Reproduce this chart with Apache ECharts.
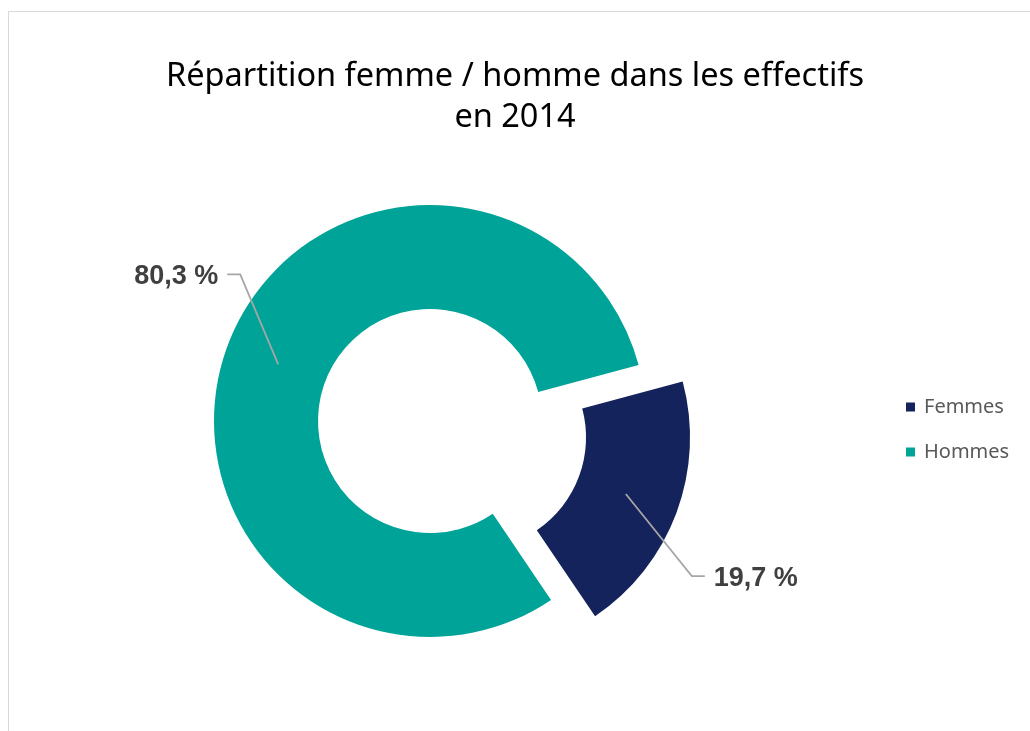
<!DOCTYPE html>
<html>
<head>
<meta charset="utf-8">
<script src="https://cdn.jsdelivr.net/npm/echarts@6/dist/echarts.min.js"></script>
<style>
  html, body { margin: 0; padding: 0; background: #fff; overflow: hidden; }
  #frame { position: absolute; left: 8px; top: 11px; width: 1040px; height: 740px; border: 1px solid #d9d9d9; }
  #chart { position: absolute; left: 0; top: 0; width: 1030px; height: 731px; }
</style>
</head>
<body>
<div id="frame"></div>
<div id="chart"></div>
<script>
// data
const categories = ['Femmes', 'Hommes'];
const shares = [19.7, 80.3];
const colors = ['#14235b', '#00a397'];

// label line bends (relative to the start point on the ring)
const labelBends = [[66, 82], [-38, -90]];
const explode = 47;
const pieCenter = [430, 421];

var chartDom = document.getElementById('chart');
var myChart = echarts.init(chartDom);

const pieData = categories.map((name, i) => ({
    name: name,
    value: shares[i],
    selected: i === 0,
    itemStyle: {color: colors[i]}
}));

const labelData = categories.map((name, i) => ({name: name, value: shares[i]}));

var option = {
    animation: false,
    title: {
        text: 'Répartition femme / homme dans les effectifs\nen 2014',
        left: 'center',
        top: 51,
        textStyle: {
            fontFamily: 'Noto Sans',
            fontWeight: 'normal',
            fontSize: 32.5,
            lineHeight: 41,
            color: '#000'
        }
    },
    legend: {
        orient: 'vertical',
        left: 906,
        top: 397,
        padding: 0,
        itemWidth: 9,
        itemHeight: 9,
        itemGap: 25,
        icon: 'rect',
        data: categories,
        textStyle: {
            fontFamily: 'Noto Sans',
            fontSize: 20,
            lineHeight: 20,
            color: '#595959',
            padding: [0, 0, 0, 4]
        }
    },
    series: [
        {
            type: 'pie',
            center: pieCenter,
            radius: [112, 216],
            startAngle: 15,
            selectedMode: 'single',
            selectedOffset: explode,
            silent: true,
            emphasis: {disabled: true},
            select: {itemStyle: {borderWidth: 0}},
            label: {show: false},
            labelLine: {show: false},
            data: pieData
        },
        {
            // invisible ring used only to place the labels
            type: 'pie',
            z: 5,
            center: pieCenter,
            radius: [0, 162],
            startAngle: 15,
            silent: true,
            emphasis: {disabled: true},
            itemStyle: {color: 'rgba(0,0,0,0)'},
            label: {
                show: true,
                position: 'outside',
                fontFamily: 'Liberation Sans',
                fontWeight: 'bold',
                fontSize: 27,
                color: '#404040',
                formatter: p => p.value.toFixed(1).replace('.', ',') + ' %'
            },
            labelLine: {
                show: true,
                length: 10,
                length2: 10,
                lineStyle: {color: '#a6a6a6', width: 1.8}
            },
            labelLayout: function (params) {
                let p0 = params.labelLinePoints[0].slice();
                if (params.dataIndex === 0) {
                    const dx = p0[0] - pieCenter[0];
                    const dy = p0[1] - pieCenter[1];
                    const len = Math.sqrt(dx * dx + dy * dy);
                    p0 = [p0[0] + dx / len * explode, p0[1] + dy / len * explode];
                }
                const bend = labelBends[params.dataIndex];
                const dir = bend[0] < 0 ? -1 : 1;
                const p1 = [p0[0] + bend[0], p0[1] + bend[1]];
                const p2 = [p1[0] + dir * 13, p1[1]];
                return {
                    x: p2[0] + dir * 9,
                    y: p2[1] + 2,
                    align: dir < 0 ? 'right' : 'left',
                    verticalAlign: 'middle',
                    labelLinePoints: [p0, p1, p2]
                };
            },
            data: labelData
        }
    ]
};

myChart.setOption(option);
</script>
</body>
</html>
